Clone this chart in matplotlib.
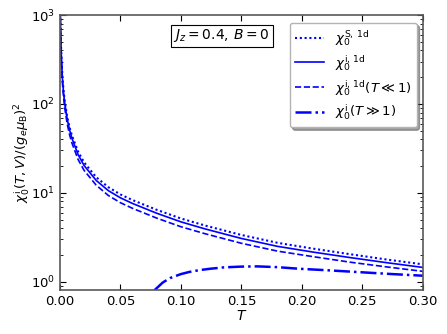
import numpy as np
import matplotlib
matplotlib.use("Agg")
import matplotlib.pyplot as plt

# ---- data ----
T = [0.0004, 0.0005, 0.001, 0.002, 0.003, 0.004, 0.006, 0.008, 0.010, 0.015, 0.020,
     0.030, 0.040, 0.050, 0.060, 0.080, 0.100, 0.120, 0.150, 0.180, 0.210,
     0.240, 0.270, 0.300]
chi_i_1d = [1000, 800, 400, 200, 135, 102, 68, 51, 41, 27, 20.3,
            13.8, 10.6, 8.8, 7.6, 5.9, 4.72, 3.93, 3.07, 2.50, 2.15,
            1.87, 1.64, 1.45]
chi_S_1d = [1040, 830, 418, 210, 142, 108, 72, 54.5, 44, 29.2, 22.0,
            15.0, 11.6, 9.6, 8.3, 6.45, 5.15, 4.29, 3.36, 2.74, 2.35,
            2.04, 1.78, 1.57]
chi_i_low = [900, 720, 360, 178, 120, 90, 60, 45, 36.2, 23.8, 17.9,
             12.2, 9.35, 7.75, 6.7, 5.2, 4.16, 3.47, 2.71, 2.21, 1.91,
             1.66, 1.47, 1.31]
T_high = [0.078, 0.085, 0.091, 0.100, 0.107, 0.115, 0.124, 0.135, 0.149, 0.163,
          0.180, 0.198, 0.220, 0.253, 0.275, 0.300]
chi_i_high = [0.80, 0.98, 1.10, 1.22, 1.29, 1.35, 1.40, 1.45, 1.48, 1.49,
              1.46, 1.40, 1.35, 1.27, 1.22, 1.17]

labels = [r'$\chi_0^{\rm S,\,1d}$', r'$\chi_0^{\rm i,\,1d}$',
          r'$\chi_0^{\rm i,\,1d}(T\ll1)$', r'$\chi_0^{\rm i}(T\gg1)$']
x_ticks = [0.00, 0.05, 0.10, 0.15, 0.20, 0.25, 0.30]

fig = plt.figure(figsize=(4.47, 3.34), dpi=100)
ax = fig.add_axes([0.134, 0.132, 0.812, 0.823])

blue = (0, 0, 1)
ax.plot(T, chi_S_1d, linestyle=(0, (1, 1.3)), color=blue, lw=1.5, label=labels[0])
ax.plot(T, chi_i_1d, '-', color=blue, lw=1.2, label=labels[1])
ax.plot(T, chi_i_low, '--', color=blue, lw=1.2, label=labels[2])
ax.plot(T_high, chi_i_high, '-.', color=blue, lw=1.8, label=labels[3])

ax.set_yscale('log')
ax.set_xlim(0, 0.3)
ax.set_ylim(0.81, 1000)
ax.set_xticks(x_ticks)
ax.set_xticklabels([f'{v:.2f}' for v in x_ticks])

ax.tick_params(which='both', direction='in', top=True, right=True, labelsize=9.5)
ax.tick_params(which='major', length=4.5, width=0.8)
ax.tick_params(which='minor', length=2.5, width=0.6)
for s in ax.spines.values():
    s.set_color('0.35')
    s.set_linewidth(1.2)

ax.set_xlabel(r'$T$', fontsize=10, labelpad=1)
ax.set_ylabel(r'$\chi_0^{\rm i}(T,V)/(g_e\mu_{\rm B})^2$', fontsize=9.5, labelpad=-1)

ax.text(0.446, 0.924, r'$J_z=0.4,\,B=0$', transform=ax.transAxes, fontsize=10,
        ha='center', va='center',
        bbox=dict(boxstyle='square,pad=0.2', facecolor='white', edgecolor='black', lw=0.8))

leg = ax.legend(loc='upper right', fontsize=9.5, fancybox=True, shadow=True,
                borderaxespad=0.0, handlelength=2.2, labelspacing=0.4,
                bbox_to_anchor=(0.983, 0.972))
leg.get_frame().set_edgecolor('0.7')

fig.savefig('out.png', dpi=100)
